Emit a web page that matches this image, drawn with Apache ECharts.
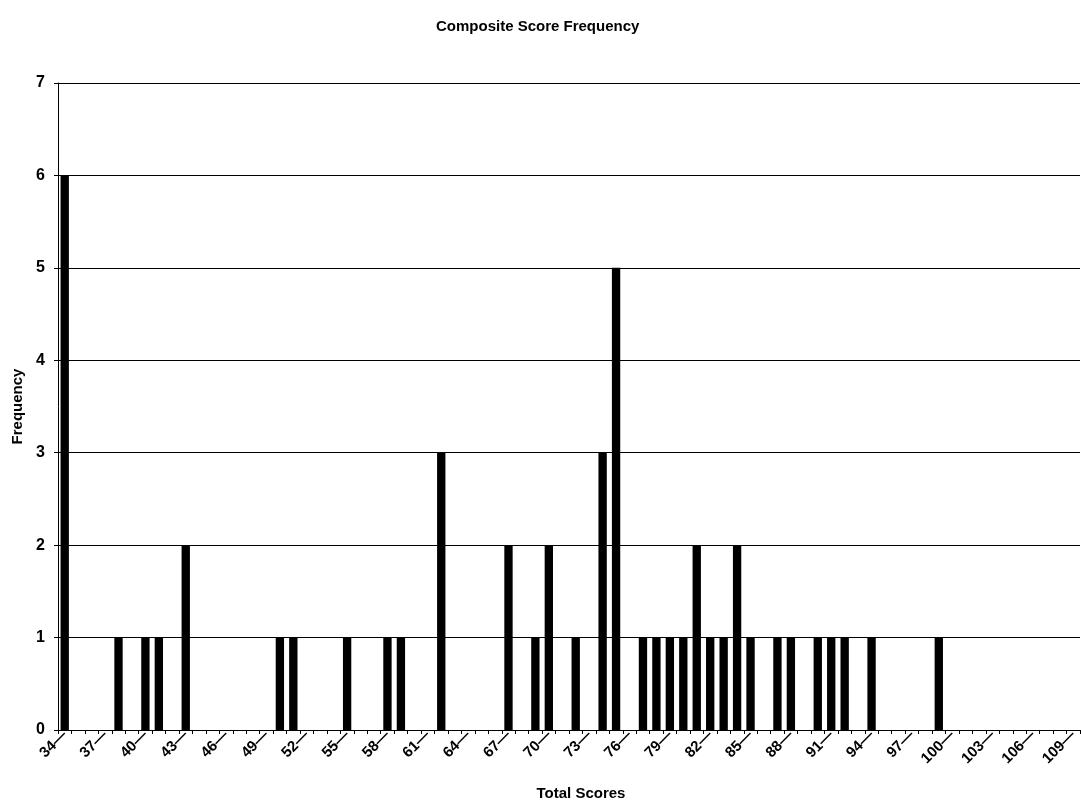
<!DOCTYPE html>
<html>
<head>
<meta charset="utf-8">
<script src="https://cdn.jsdelivr.net/npm/echarts@6/dist/echarts.min.js"></script>
<style>
html,body{margin:0;padding:0;background:#fff;}
#chart{width:1081px;height:802px;}
</style>
</head>
<body>
<div id="chart"></div>
<script>
const titleText = 'Composite Score Frequency';
const xAxisName = 'Total Scores';
const yAxisName = 'Frequency';
const categories = ['34','35','36','37','38','39','40','41','42','43',
  '44','45','46','47','48','49','50','51','52','53',
  '54','55','56','57','58','59','60','61','62','63',
  '64','65','66','67','68','69','70','71','72','73',
  '74','75','76','77','78','79','80','81','82','83',
  '84','85','86','87','88','89','90','91','92','93',
  '94','95','96','97','98','99','100','101','102','103',
  '104','105','106','107','108','109'];
const frequency = [6,0,0,0,1,0,1,1,0,2,
  0,0,0,0,0,0,1,1,0,0,
  0,1,0,0,1,1,0,0,3,0,
  0,0,0,2,0,1,2,0,1,0,
  3,5,0,1,1,1,1,2,1,1,
  2,1,0,1,1,0,1,1,1,0,
  1,0,0,0,0,1,0,0,0,0,
  0,0,0,0,0,0];
const yTicks = [0,1,2,3,4,5,6,7];

const chart = echarts.init(document.getElementById('chart'));
const font = 'Liberation Sans, Arial, sans-serif';
chart.setOption({
  backgroundColor: '#ffffff',
  animation: false,
  title: {
    text: titleText,
    left: 431,
    top: 14,
    textStyle: {fontFamily: font, fontSize: 15, fontWeight: 'bold', color: '#000'}
  },
  grid: {left: 58, right: 1, top: 83, bottom: 72, containLabel: false, outerBoundsMode: 'none'},
  xAxis: {
    type: 'category',
    data: categories,
    boundaryGap: true,
    name: xAxisName,
    nameLocation: 'middle',
    nameGap: 56,
    nameMoveOverlap: false,
    nameTextStyle: {fontFamily: font, fontSize: 15, fontWeight: 'bold', color: '#000', padding: [0, 0, 0, 24]},
    axisLine: {show: true, lineStyle: {color: '#000', width: 1}},
    axisTick: {show: true, interval: 0, length: 4, lineStyle: {color: '#000'}},
    axisLabel: {
      interval: 2,
      rotate: 45,
      margin: 3,
      fontFamily: font,
      fontSize: 15,
      fontWeight: 'bold',
      color: '#000',
      formatter: function (v) { return v + '\u2014'; }
    },
    splitLine: {show: false}
  },
  yAxis: {
    type: 'value',
    min: yTicks[0],
    max: yTicks[yTicks.length - 1],
    interval: 1,
    name: yAxisName,
    nameLocation: 'middle',
    nameGap: 33,
    nameMoveOverlap: false,
    nameTextStyle: {fontFamily: font, fontSize: 15, fontWeight: 'bold', color: '#000'},
    axisLine: {show: true, lineStyle: {color: '#000', width: 1}},
    axisTick: {show: true, length: 4, lineStyle: {color: '#000'}},
    axisLabel: {margin: 13, fontFamily: font, fontSize: 16, fontWeight: 'bold', color: '#000'},
    splitLine: {show: true, lineStyle: {color: '#000', width: 1}}
  },
  series: [{
    type: 'bar',
    data: frequency,
    barWidth: '62%',
    itemStyle: {color: '#000'}
  }]
});
</script>
</body>
</html>
